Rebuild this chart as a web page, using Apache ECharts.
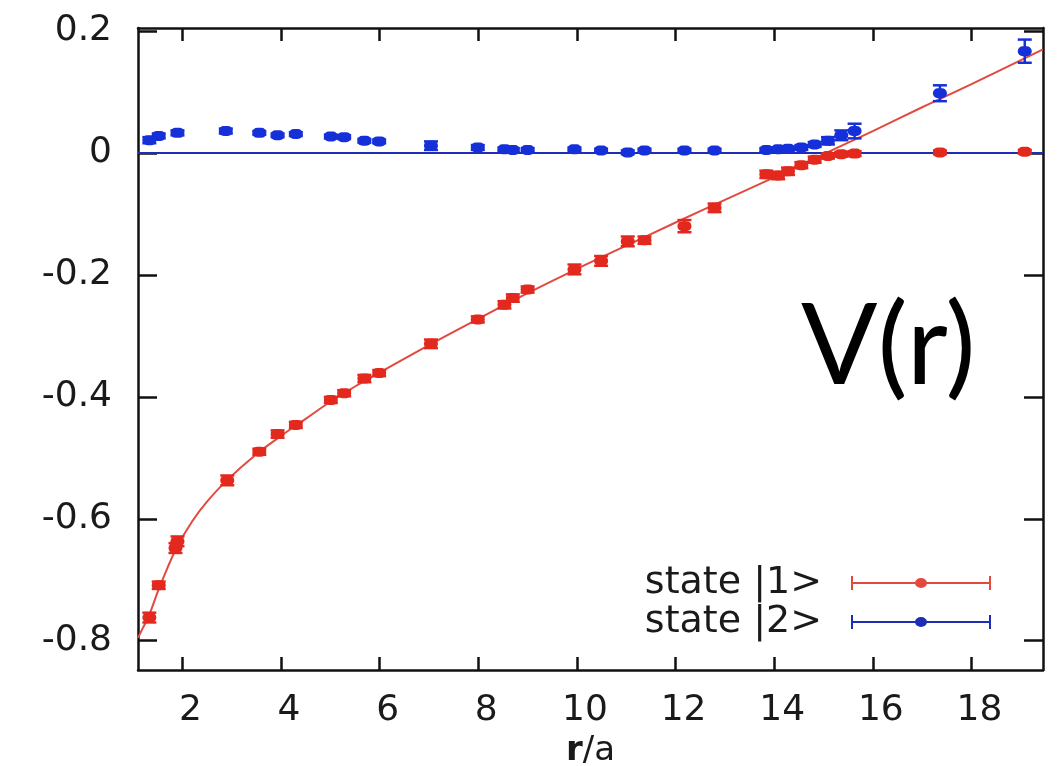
<!DOCTYPE html>
<html>
<head>
<meta charset="utf-8">
<script src="https://cdn.jsdelivr.net/npm/echarts@6/dist/echarts.min.js"></script>
<style>
  html, body { margin: 0; padding: 0; background: #fff; }
  #main { width: 1060px; height: 766px; }
</style>
</head>
<body>
<div id="main"></div>
<script>
// state |1> : r/a, V, error
var r1 = [1.33, 1.52, 1.86, 1.90, 2.91, 3.56, 3.93, 4.30, 5.01, 5.28, 5.69, 5.99, 7.04, 7.99, 8.53, 8.70, 9.00, 9.95,
          10.49, 11.03, 11.37, 12.18, 12.79, 13.84, 14.08, 14.28, 14.55, 14.82, 15.09, 15.36, 15.63, 17.36, 19.08];
var v1 = [-0.762, -0.709, -0.648, -0.637, -0.537, -0.490, -0.461, -0.446, -0.405, -0.394, -0.370, -0.361, -0.313, -0.273, -0.249, -0.238, -0.224, -0.191,
          -0.177, -0.145, -0.143, -0.120, -0.090, -0.035, -0.037, -0.030, -0.020, -0.011, -0.005, -0.002, -0.001, 0.001, 0.002];
var e1 = [0.008, 0.006, 0.008, 0.008, 0.008, 0.005, 0.006, 0.005, 0.005, 0.005, 0.006, 0.005, 0.007, 0.005, 0.006, 0.006, 0.005, 0.008,
          0.008, 0.008, 0.006, 0.010, 0.007, 0.006, 0.006, 0.006, 0.005, 0.005, 0.004, 0.004, 0.004, 0.003, 0.003];

// state |2>
var r2 = [1.33, 1.52, 1.90, 2.88, 3.56, 3.93, 4.30, 5.01, 5.28, 5.69, 5.99, 7.04, 7.99, 8.53, 8.70, 9.00, 9.95,
          10.49, 11.03, 11.37, 12.18, 12.79, 13.84, 14.08, 14.28, 14.55, 14.82, 15.09, 15.36, 15.63, 17.36, 19.08];
var v2 = [0.021, 0.028, 0.033, 0.036, 0.033, 0.029, 0.031, 0.027, 0.026, 0.020, 0.019, 0.012, 0.009, 0.006, 0.005, 0.005, 0.006,
          0.004, 0.001, 0.004, 0.004, 0.004, 0.005, 0.006, 0.007, 0.009, 0.014, 0.020, 0.029, 0.036, 0.098, 0.167];
var e2 = [0.005, 0.004, 0.004, 0.004, 0.003, 0.003, 0.003, 0.003, 0.003, 0.003, 0.003, 0.007, 0.004, 0.003, 0.003, 0.003, 0.003,
          0.003, 0.003, 0.003, 0.003, 0.003, 0.003, 0.003, 0.003, 0.004, 0.004, 0.006, 0.008, 0.012, 0.013, 0.019];

// fit curves
var fitR1 = [1.1, 1.2, 1.33, 1.5, 1.7, 1.9, 2.2, 2.5, 2.9, 3.5, 4.0, 4.5, 5.0, 5.5, 6.0, 7.0, 8.0, 9.0, 10.0,
             11.0, 12.0, 13.0, 14.0, 15.0, 16.0, 17.0, 18.0, 19.45];
var fitV1 = [-0.795, -0.779, -0.757, -0.720, -0.680, -0.645, -0.604, -0.572, -0.537, -0.494, -0.464, -0.436, -0.408, -0.383, -0.360, -0.315, -0.272, -0.230, -0.190,
             -0.152, -0.114, -0.077, -0.040, -0.002, 0.036, 0.075, 0.113, 0.170];
var fitR2 = [1.1, 19.45];
var fitV2 = [0, 0];

var xTicks = [2, 4, 6, 8, 10, 12, 14, 16, 18];
var yTicks = [-0.8, -0.6, -0.4, -0.2, 0, 0.2];

var RED = '#e3281e', RED_LINE = '#e2493f', BLUE = '#1530d8', BLUE_LINE = '#1d2db4';

function zip3(a, b, c) { return a.map(function (v, i) { return [v, b[i], c[i]]; }); }
function zip2(a, b) { return a.map(function (v, i) { return [v, b[i]]; }); }

function errRender(color) {
  return function (params, api) {
    var x = api.value(0), y = api.value(1), e = api.value(2);
    var c = api.coord([x, y]);
    var hi = api.coord([x, y + e]);
    var lo = api.coord([x, y - e]);
    var cap = 7;
    var st = { stroke: color, lineWidth: 2.5 };
    return {
      type: 'group',
      children: [
        { type: 'line', shape: { x1: c[0], y1: hi[1], x2: c[0], y2: lo[1] }, style: st },
        { type: 'line', shape: { x1: c[0] - cap, y1: hi[1], x2: c[0] + cap, y2: hi[1] }, style: st },
        { type: 'line', shape: { x1: c[0] - cap, y1: lo[1], x2: c[0] + cap, y2: lo[1] }, style: st },
        { type: 'rect', shape: { x: c[0] - 7, y: c[1] - 5, width: 14, height: 10, r: 5 }, style: { fill: color } }
      ]
    };
  };
}

var legendIcon = 'path://M0,0 H2 V14 H0 Z M138,0 H140 V14 H138 Z M0,6 H140 V8 H0 Z M64,7 A6,5 0 1,1 76,7 A6,5 0 1,1 64,7 Z';

var axisFont = { fontFamily: 'DejaVu Sans', fontSize: 36, color: '#1a1a1a' };
var frameLine = { show: true, onZero: false, lineStyle: { color: '#111', width: 2.5 } };
var tickStyle = { color: '#111', width: 2.5 };

var myChart = echarts.init(document.getElementById('main'));
myChart.setOption({
  backgroundColor: '#fff',
  animation: false,
  grid: { left: 138, right: 17, top: 28, bottom: 96, outerBoundsMode: 'none' },
  legend: {
    orient: 'vertical',
    right: 64,
    top: 559,
    align: 'right',
    itemWidth: 140,
    itemHeight: 14,
    itemGap: 1,
    selectedMode: false,
    itemStyle: { borderWidth: 0 },
    textStyle: { fontFamily: 'DejaVu Sans', fontSize: 38, color: '#1a1a1a', lineHeight: 38, padding: [0, 24, 0, 0] },
    data: [
      { name: 'state |1>', icon: legendIcon, itemStyle: { color: RED_LINE } },
      { name: 'state |2>', icon: legendIcon, itemStyle: { color: BLUE_LINE } }
    ]
  },
  xAxis: [{
    type: 'value', min: 1.1, max: 19.45,
    name: '{b|r}/a', nameLocation: 'middle', nameGap: 62,
    nameTextStyle: {
      fontFamily: 'DejaVu Sans', fontSize: 34, color: '#1a1a1a',
      rich: { b: { fontFamily: 'DejaVu Sans', fontSize: 34, fontWeight: 'bold', color: '#1a1a1a' } }
    },
    axisLine: frameLine,
    axisTick: { inside: true, length: 13, customValues: xTicks, lineStyle: tickStyle },
    axisLabel: Object.assign({ margin: 23, customValues: xTicks, padding: [0, 0, 0, 16] }, axisFont),
    splitLine: { show: false }
  }, {
    type: 'value', min: 1.1, max: 19.45, position: 'top',
    axisLine: frameLine,
    axisTick: { inside: true, length: 13, customValues: xTicks, lineStyle: tickStyle },
    axisLabel: { show: false },
    splitLine: { show: false }
  }],
  yAxis: [{
    type: 'value', min: -0.848, max: 0.205,
    axisLine: frameLine,
    axisTick: { inside: true, length: 19, customValues: yTicks, lineStyle: tickStyle },
    axisLabel: Object.assign({ margin: 26, customValues: yTicks }, axisFont),
    splitLine: { show: false }
  }, {
    type: 'value', min: -0.848, max: 0.205, position: 'right',
    axisLine: frameLine,
    axisTick: { inside: true, length: 19, customValues: yTicks, lineStyle: tickStyle },
    axisLabel: { show: false },
    splitLine: { show: false }
  }],
  series: [
    {
      name: 'state |1>', type: 'custom', renderItem: errRender(RED), itemStyle: { color: RED_LINE },
      data: zip3(r1, v1, e1), z: 4, encode: { x: 0, y: 1 }
    },
    {
      name: 'state |2>', type: 'custom', renderItem: errRender(BLUE), itemStyle: { color: BLUE_LINE },
      data: zip3(r2, v2, e2), z: 5, encode: { x: 0, y: 1 }
    },
    {
      name: 'fit |1>', type: 'line', data: zip2(fitR1, fitV1), smooth: 0.4, symbol: 'none',
      lineStyle: { color: RED_LINE, width: 2 }, z: 2
    },
    {
      name: 'fit |2>', type: 'line', data: zip2(fitR2, fitV2), symbol: 'none',
      lineStyle: { color: BLUE_LINE, width: 2 }, z: 3
    }
  ],
  graphic: [{
    type: 'text', left: 801, top: 291,
    style: { text: 'V(r)', fontFamily: 'Lato', fontSize: 113, fill: '#000' }
  }]
});
</script>
</body>
</html>
